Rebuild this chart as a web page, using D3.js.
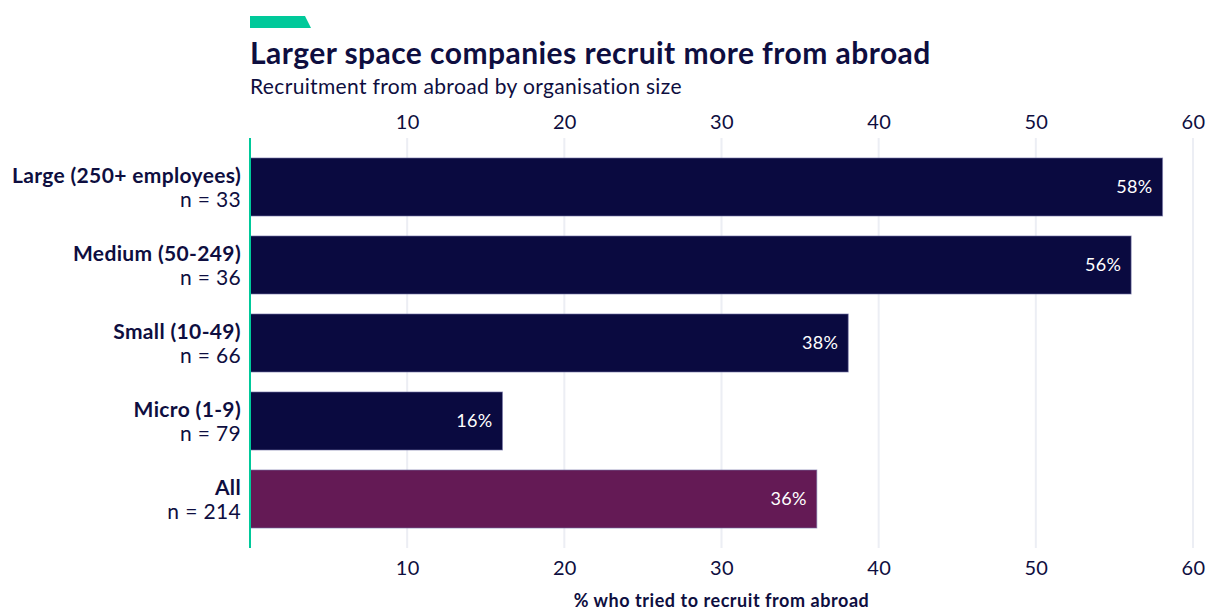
<!DOCTYPE html>
<html>
<head>
<meta charset="utf-8">
<script src="https://cdn.jsdelivr.net/npm/d3@7"></script>
<style>
  html, body { margin: 0; padding: 0; background: #ffffff; }
  svg { display: block; font-family: Lato, "Noto Sans", sans-serif; }
</style>
</head>
<body>
<svg id="chart" width="1207" height="610"></svg>
<script>
// Recruitment from abroad, by organisation size
const categories = ["Large (250+ employees)", "Medium (50-249)", "Small (10-49)", "Micro (1-9)", "All"];
const sampleSizes = ["n = 33", "n = 36", "n = 66", "n = 79", "n = 214"];
const values = [58, 56, 38, 16, 36];
const tickValues = [10, 20, 30, 40, 50, 60];

const navy = "#0a0a40";
const purple = "#641a55";
const teal = "#00c99a";
const ink = "#0e0e40";

const svg = d3.select("#chart");

const x = d3.scaleLinear().domain([0, 60]).range([250, 1193]);
const y = d3.scaleBand().domain(categories).range([148, 538])
  .paddingInner(0.256).paddingOuter(0.128);

const gridTop = 138, gridBottom = 548;

// accent tab
svg.append("path")
  .attr("d", "M250,16 L305,16 L311,28 L250,28 Z")
  .attr("fill", teal);

svg.append("text")
  .attr("x", 250).attr("y", 64)
  .attr("fill", ink)
  .attr("font-size", 30).attr("font-weight", 700)
  .attr("letter-spacing", 0.45)
  .text("Larger space companies recruit more from abroad");

svg.append("text")
  .attr("x", 250).attr("y", 94)
  .attr("fill", ink)
  .attr("font-size", 21)
  .attr("letter-spacing", 0.35)
  .text("Recruitment from abroad by organisation size");

// gridlines
svg.append("g")
  .selectAll("line")
  .data(tickValues)
  .join("line")
  .attr("x1", d => x(d)).attr("x2", d => x(d))
  .attr("y1", gridTop).attr("y2", gridBottom)
  .attr("stroke", "#eceef4").attr("stroke-width", 2);

// top and bottom axes
const topAxis = svg.append("g")
  .attr("transform", `translate(0,${gridTop})`)
  .call(d3.axisTop(x).tickValues(tickValues).tickSize(0).tickPadding(9));
const bottomAxis = svg.append("g")
  .attr("transform", `translate(0,${gridBottom})`)
  .call(d3.axisBottom(x).tickValues(tickValues).tickSize(0).tickPadding(13));
[topAxis, bottomAxis].forEach(g => {
  g.select(".domain").remove();
  g.selectAll("text")
    .attr("fill", ink)
    .attr("font-size", 20)
    .attr("letter-spacing", 0.3)
    .attr("font-family", "Lato, 'Noto Sans', sans-serif");
});

// bars, with a faint light outline
svg.append("g")
  .selectAll("rect")
  .data(categories)
  .join("rect")
  .attr("x", x(0))
  .attr("y", d => y(d))
  .attr("width", (d, i) => x(values[i]) - x(0) + 1)
  .attr("height", y.bandwidth())
  .attr("fill", d => d === "All" ? purple : navy)
  .attr("stroke", "rgba(120,120,170,0.6)")
  .attr("stroke-width", 1);

// value labels
svg.append("g")
  .selectAll("text")
  .data(categories)
  .join("text")
  .attr("x", (d, i) => x(values[i]) - 9)
  .attr("y", d => y(d) + y.bandwidth() / 2)
  .attr("dy", "0.35em")
  .attr("text-anchor", "end")
  .attr("fill", "#ffffff")
  .attr("font-size", 18)
  .attr("letter-spacing", 0.3)
  .text((d, i) => values[i] + "%");

// category labels
const labels = svg.append("g")
  .selectAll("g")
  .data(categories)
  .join("g");
labels.append("text")
  .attr("x", 241)
  .attr("y", d => y(d) + y.bandwidth() / 2 - 4)
  .attr("text-anchor", "end")
  .attr("fill", ink)
  .attr("font-size", 21).attr("font-weight", 700)
  .attr("letter-spacing", 0.35)
  .text(d => d);
labels.append("text")
  .attr("x", 241)
  .attr("y", d => y(d) + y.bandwidth() / 2 + 20)
  .attr("text-anchor", "end")
  .attr("fill", ink)
  .attr("font-size", 21)
  .attr("letter-spacing", 0.35)
  .text((d, i) => sampleSizes[i]);

// zero baseline
svg.append("line")
  .attr("x1", x(0)).attr("x2", x(0))
  .attr("y1", gridTop).attr("y2", gridBottom)
  .attr("stroke", teal).attr("stroke-width", 2);

svg.append("text")
  .attr("x", (x(0) + x(60)) / 2).attr("y", 607)
  .attr("text-anchor", "middle")
  .attr("fill", ink)
  .attr("font-size", 18).attr("font-weight", 700)
  .attr("letter-spacing", 0.55)
  .text("% who tried to recruit from abroad");
</script>
</body>
</html>
